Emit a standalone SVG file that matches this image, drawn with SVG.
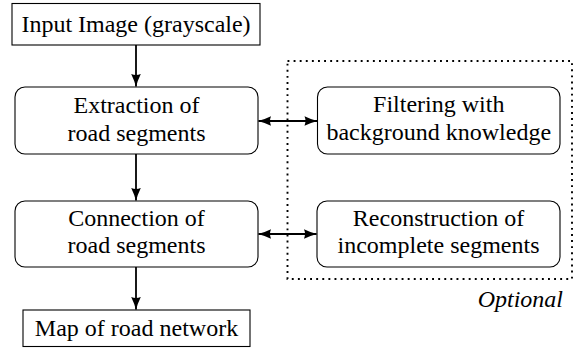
<svg xmlns="http://www.w3.org/2000/svg" width="579" height="348" viewBox="0 0 579 348">
<style>
  .box { fill: #fff; stroke: #000; stroke-width: 1.1; }
  .t { font-family: 'Liberation Serif', Tinos, 'Times New Roman', Times, 'DejaVu Serif', serif; font-size: 24px; fill: #000; text-anchor: middle; }
  .opt { font-family: 'Liberation Serif', Tinos, 'Times New Roman', Times, 'DejaVu Serif', serif; font-size: 24px; font-style: italic; fill: #000; text-anchor: end; }
  .arr { fill: none; stroke: #000; stroke-width: 1.8; }
  .dot { fill: none; stroke: #000; stroke-width: 1.9; stroke-dasharray: 1.9 4.2; }
</style>
<defs>
  <marker id="ah" viewBox="-13 -6 14 12" refX="0" refY="0" markerWidth="14" markerHeight="12" markerUnits="userSpaceOnUse" orient="auto-start-reverse">
    <path d="M0.5,0 Q-6,-1.6 -12.5,-4.8 Q-10.5,0 -12.5,4.8 Q-6,1.6 0.5,0 Z" fill="#000"/>
  </marker>
</defs>
<rect id="optional-region" class="dot" x="287.5" y="61" width="284.5" height="218"/>
<g id="input">
  <rect class="box" x="12" y="3.5" width="248" height="41.5"/>
  <text class="t" x="136" y="32" font-family="Liberation Serif, serif">Input Image (grayscale)</text>
</g>
<g id="extraction">
  <rect class="box" x="15" y="87" width="243" height="67" rx="10" ry="10"/>
  <text class="t" x="136.5" y="113">Extraction of</text>
  <text class="t" x="136.5" y="141">road segments</text>
</g>
<g id="connection">
  <rect class="box" x="15" y="201" width="243" height="66" rx="10" ry="10"/>
  <text class="t" x="136.5" y="226">Connection of</text>
  <text class="t" x="136.5" y="253">road segments</text>
</g>
<g id="map">
  <rect class="box" x="23" y="310" width="227" height="36.5"/>
  <text class="t" x="136.5" y="336">Map of road network</text>
</g>
<g id="filtering">
  <rect class="box" x="317.5" y="87" width="242.5" height="67" rx="10" ry="10"/>
  <text class="t" x="438.75" y="112">Filtering with</text>
  <text class="t" x="438.75" y="140">background knowledge</text>
</g>
<g id="reconstruction">
  <rect class="box" x="317" y="201" width="243" height="66" rx="10" ry="10"/>
  <text class="t" x="438.5" y="226">Reconstruction of</text>
  <text class="t" x="438.5" y="253">incomplete segments</text>
</g>
<g id="optional-label">
  <text class="opt" x="563" y="307">Optional</text>
</g>
<g id="connectors">
  <line class="arr" x1="136" y1="45" x2="136" y2="86.5" marker-end="url(#ah)"/>
  <line class="arr" x1="136" y1="154" x2="136" y2="200.5" marker-end="url(#ah)"/>
  <line class="arr" x1="136" y1="267" x2="136" y2="309.5" marker-end="url(#ah)"/>
  <line class="arr" x1="258.5" y1="121" x2="317" y2="121" marker-start="url(#ah)" marker-end="url(#ah)"/>
  <line class="arr" x1="258.5" y1="234" x2="316.5" y2="234" marker-start="url(#ah)" marker-end="url(#ah)"/>
</g>
</svg>
